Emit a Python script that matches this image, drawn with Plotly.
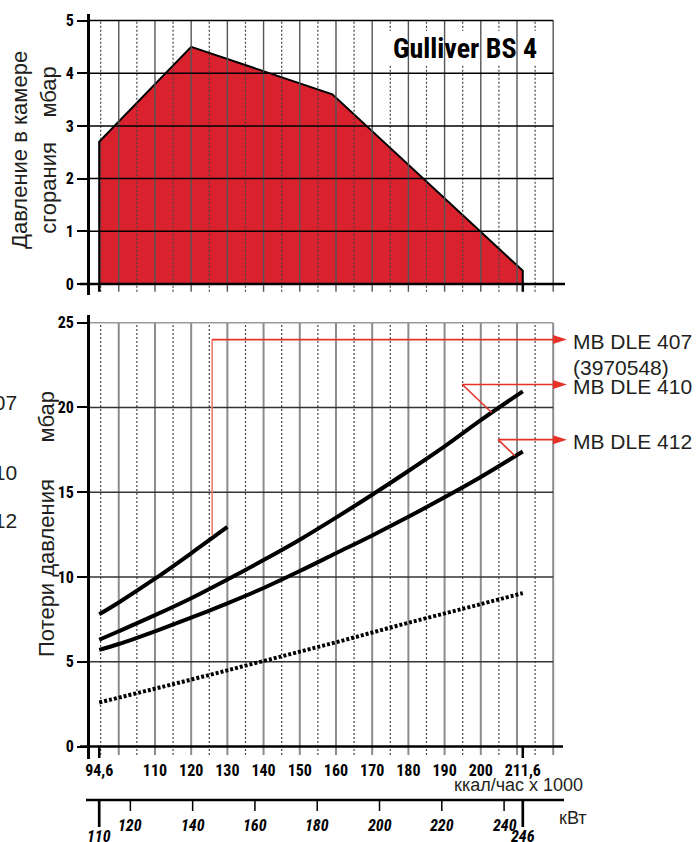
import plotly.graph_objects as go

# ---------------- data ----------------
kcal_ticks = [94.6, 110, 120, 130, 140, 150, 160, 170, 180, 190, 200, 211.6]
kcal_ticktext = ["94,6", "110", "120", "130", "140", "150", "160", "170", "180", "190", "200", "211,6"]
kcal_ends = [94.6, 211.6]

kw_ticks = [110, 120, 140, 160, 180, 200, 220, 240, 246]
kw_ticktext = ["110", "120", "140", "160", "180", "200", "220", "240", "246"]
kw_ends = [110, 246]

grid_solid = [100, 110, 120, 130, 140, 150, 160, 170, 180, 190, 200, 210, 220]
grid_dotted = [95, 105, 115, 125, 135, 145, 155, 165, 175, 185, 195, 205, 215]

top_yticks = [0, 1, 2, 3, 4, 5]
bottom_yticks = [0, 5, 10, 15, 20, 25]

# combustion chamber pressure (working field)
chamber_x = [94.6, 94.6, 120, 159, 211.6, 211.6]
chamber_y = [0, 2.7, 4.5, 3.6, 0.25, 0]

# gas train pressure losses
q = [94.6, 100, 110, 120, 130, 140, 150, 160, 170, 180, 190, 200, 211.6]
dle410 = [6.3, 6.8, 7.75, 8.75, 9.85, 11.0, 12.2, 13.5, 14.85, 16.25, 17.7, 19.25, 20.95]
dle412 = [5.7, 6.05, 6.8, 7.6, 8.45, 9.35, 10.35, 11.4, 12.45, 13.55, 14.7, 15.9, 17.4]
q407 = [94.6, 100, 110, 120, 130]
dle407 = [7.8, 8.5, 9.9, 11.4, 12.95]
q_head = [94.6, 120, 140, 160, 180, 200, 211.6]
head_loss = [2.6, 3.95, 5.05, 6.15, 7.3, 8.4, 9.05]

labels = ["MB DLE 407", "MB DLE 410", "MB DLE 412"]
label_sub = "(3970548)"
conn_start = [(125.8, 12.45), (203.0, 19.7), (209.4, 17.15)]
conn_knee = [(125.8, 24.0), (194.9, 21.35), (204.8, 18.1)]
arrow_tip_x = 223.8

title = "Gulliver BS 4"

# ---------------- style ----------------
W, H = 696, 842
X_RANGE = [92, 225]
X_DOM = [89.8 / W, 571.3 / W]
Y1_RANGE = [-0.2, 5.12]
Y1_DOM = [(H - 294.5) / H, (H - 14.2) / H]
Y2_RANGE = [-0.75, 25.45]
Y2_DOM = [(H - 759.3) / H, (H - 315.0) / H]

COND = "Roboto Condensed, Liberation Sans Narrow, DejaVu Sans Condensed, sans-serif"
SANS = "Liberation Sans, Arial, Helvetica, sans-serif"
RED = "#d9222e"
LRED = "#e5332a"
TXT = "#231f20"


def px(xp):
    return xp / W


def py(yp):
    return 1 - yp / H


kw_per_kcal = (kw_ends[1] - kw_ends[0]) / (kcal_ends[1] - kcal_ends[0])
KW_RANGE = [kw_ends[0] + (X_RANGE[0] - kcal_ends[0]) * kw_per_kcal,
            kw_ends[0] + (X_RANGE[1] - kcal_ends[0]) * kw_per_kcal]

fig = go.Figure()

fig.add_trace(go.Scatter(
    x=chamber_x, y=chamber_y, xaxis="x", yaxis="y", mode="lines",
    fill="toself", fillcolor=RED, line=dict(color="black", width=2),
    showlegend=False, hoverinfo="skip"))

for xs, ys, dash in [(q, dle410, None), (q, dle412, None), (q407, dle407, None),
                     (q_head, head_loss, "3px,2px")]:
    fig.add_trace(go.Scatter(x=xs, y=ys, xaxis="x2", yaxis="y2", mode="lines",
                             line=dict(color="black", width=4, shape="spline", dash=dash),
                             showlegend=False, hoverinfo="skip"))
fig.add_trace(go.Scatter(x=[None], y=[None], xaxis="x3", yaxis="y2", mode="lines",
                         showlegend=False, hoverinfo="skip"))

shapes = []
for gx in grid_dotted:
    shapes.append(dict(type="line", xref="x", yref="y", x0=gx, x1=gx, y0=-0.15, y1=5,
                       line=dict(color="#444", width=1.2, dash="2px,2px"), layer="above"))
shapes.append(dict(type="rect", xref="x", yref="y", x0=172.5, x1=218, y0=4.15, y1=4.8,
                   fillcolor="white", line=dict(width=0), layer="above"))
for gx in grid_solid:
    shapes.append(dict(type="line", xref="x", yref="y", x0=gx, x1=gx, y0=-0.15, y1=5,
                       line=dict(color="#555", width=1.4), layer="above"))
for gy in top_yticks[1:]:
    shapes.append(dict(type="line", xref="x", yref="y", x0=X_RANGE[0], x1=220, y0=gy, y1=gy,
                       line=dict(color="black", width=1.5), layer="above"))
shapes.append(dict(type="line", xref="paper", yref="y", x0=px(80), x1=px(565), y0=0, y1=0,
                   line=dict(color="black", width=2.5), layer="above"))
for e in kcal_ends:
    shapes.append(dict(type="line", xref="x", yref="y", x0=e, x1=e, y0=-0.15, y1=0,
                       line=dict(color="black", width=2.5), layer="above"))

for gx in grid_dotted:
    shapes.append(dict(type="line", xref="x2", yref="y2", x0=gx, x1=gx, y0=-0.5, y1=25,
                       line=dict(color="#444", width=1.2, dash="2px,2px"), layer="below"))
for gx in grid_solid:
    shapes.append(dict(type="line", xref="x2", yref="y2", x0=gx, x1=gx, y0=-0.5, y1=25,
                       line=dict(color="#8c8c8c", width=2), layer="below"))
for gy in bottom_yticks[1:]:
    shapes.append(dict(type="line", xref="x2", yref="y2", x0=X_RANGE[0], x1=220, y0=gy, y1=gy,
                       line=dict(color="#999" if gy == 25 else "#333", width=1.5), layer="below"))
shapes.append(dict(type="line", xref="paper", yref="y2", x0=px(80), x1=px(563), y0=0, y1=0,
                   line=dict(color="black", width=2.5), layer="above"))
for e in kcal_ends:
    shapes.append(dict(type="line", xref="x2", yref="y2", x0=e, x1=e, y0=-0.67, y1=0,
                       line=dict(color="black", width=2.5), layer="above"))

for i, ((sx, sy), (kx, ky)) in enumerate(zip(conn_start, conn_knee)):
    shapes.append(dict(type="line", xref="x2", yref="y2", x0=sx, x1=kx, y0=sy, y1=ky,
                       line=dict(color="#ef7a6a" if i == 0 else LRED, width=1.6), layer="above"))
    shapes.append(dict(type="line", xref="x2", yref="y2", x0=kx, x1=arrow_tip_x - 2.5, y0=ky, y1=ky,
                       line=dict(color=LRED, width=1.6), layer="above"))
    shapes.append(dict(type="path", xref="x2", yref="y2", xsizemode="pixel", ysizemode="pixel",
                       xanchor=arrow_tip_x, yanchor=ky, path="M -14 -4.5 L 0 0 L -14 4.5 Z",
                       fillcolor=LRED, line=dict(width=0), layer="above"))

shapes.append(dict(type="line", xref="paper", yref="paper", x0=px(86), x1=px(564), y0=py(800), y1=py(800),
                   line=dict(color="black", width=2.5)))
annotations = []
for t, tt in zip(kw_ticks, kw_ticktext):
    is_end = t in kw_ends
    shapes.append(dict(type="line", xref="x3", yref="paper", x0=t, x1=t, y0=py(800),
                       y1=py(827 if is_end else 811),
                       line=dict(color="black", width=2.7 if is_end else 1.5)))
    annotations.append(dict(xref="x3", yref="paper", x=t, y=py(836 if is_end else 825), text=tt,
                            showarrow=False, xanchor="center", yanchor="middle",
                            font=dict(family=COND, size=16, color="black", weight="bold", style="italic")))

annotations.append(dict(xref="paper", yref="paper", x=px(465), y=py(49), text=title, showarrow=False,
                        xanchor="center", yanchor="middle",
                        font=dict(family=COND, size=28, color="black", weight="bold")))
nb = "\u00a0"
annotations.append(dict(xref="paper", yref="paper", x=px(34), y=py(150), textangle=-90,
                        xanchor="center", yanchor="middle",
                        text="Давление в камере<br>сгорания" + nb * 4 + "мбар", showarrow=False,
                        font=dict(family=SANS, size=22, color=TXT)))
annotations.append(dict(xref="paper", yref="paper", x=px(46), y=py(524), textangle=-90,
                        xanchor="center", yanchor="middle",
                        text="Потери давления" + nb * 6 + "мбар", showarrow=False,
                        font=dict(family=SANS, size=22, color=TXT)))
annotations.append(dict(xref="paper", yref="paper", x=px(518.5), y=py(785), text="ккал/час x 1000",
                        xanchor="center", yanchor="middle",
                        showarrow=False, font=dict(family=SANS, size=18, color=TXT)))
annotations.append(dict(xref="paper", yref="paper", x=px(557), y=py(818), xanchor="left", yanchor="middle",
                        text="кВт", showarrow=False, font=dict(family=SANS, size=18, color=TXT)))
for lab, (kx, ky) in zip(labels, conn_knee):
    annotations.append(dict(xref="paper", yref="y2", x=px(571), y=ky, yshift=-2, xanchor="left",
                            yanchor="middle", text=lab, showarrow=False,
                            font=dict(family=SANS, size=21, color=TXT)))
annotations.append(dict(xref="paper", yref="paper", x=px(571), y=py(367), xanchor="left",
                        yanchor="middle", text=label_sub, showarrow=False,
                        font=dict(family=SANS, size=21, color=TXT)))
for lab, yy in zip(labels, [403, 472, 520]):
    annotations.append(dict(xref="paper", yref="paper", x=px(18.5), y=py(yy), xanchor="right",
                            yanchor="middle", text=lab, showarrow=False,
                            font=dict(family=SANS, size=21, color=TXT)))

tickfont = dict(family=COND, size=16, color="black", weight="bold")
common_y = dict(showline=True, linewidth=2.5, linecolor="black", ticks="outside", ticklen=10,
                tickwidth=1.5, tickcolor="black", showgrid=False, zeroline=False, tickfont=tickfont)

fig.update_layout(
    width=W, height=H, margin=dict(l=0, r=0, t=0, b=0, autoexpand=False),
    paper_bgcolor="white", plot_bgcolor="white", showlegend=False,
    xaxis=dict(domain=X_DOM, range=X_RANGE, anchor="y", showgrid=False, zeroline=False,
               showticklabels=False, ticks=""),
    yaxis=dict(domain=Y1_DOM, range=Y1_RANGE, anchor="x", tickvals=top_yticks, **common_y),
    xaxis2=dict(domain=X_DOM, range=X_RANGE, anchor="y2", showgrid=False, zeroline=False,
                tickvals=kcal_ticks, ticktext=kcal_ticktext, ticks="", tickfont=tickfont),
    yaxis2=dict(domain=Y2_DOM, range=Y2_RANGE, anchor="x2", tickvals=bottom_yticks, **common_y),
    xaxis3=dict(overlaying="x2", anchor="y2", range=KW_RANGE, visible=False),
    shapes=shapes, annotations=annotations,
)

fig.write_html("out.html")
